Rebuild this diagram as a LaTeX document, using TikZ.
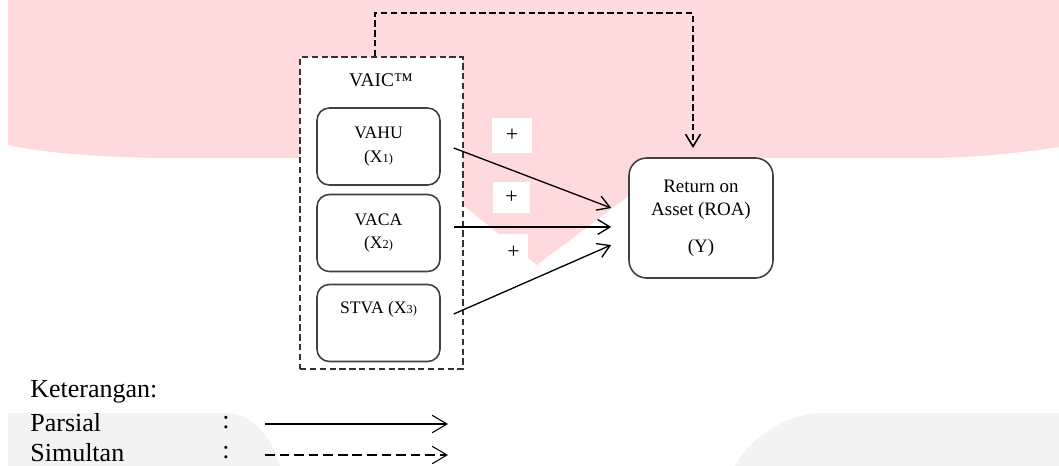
\documentclass[tikz,border=0pt]{standalone}
\usepackage{fontspec}
\setmainfont{Liberation Serif}
\usepackage{tikz}
\usetikzlibrary{arrows.meta,calc}
\definecolor{logopink}{HTML}{FFDADD}
\definecolor{logogray}{HTML}{F3F3F3}
\newcommand{\smallsub}[1]{{\fontsize{7}{8}\selectfont #1}}
\tikzstyle{groupbox} = [draw=black!80, fill=white, line width=0.9pt,
    dash pattern=on 3.6pt off 2pt, rectangle, minimum width=3.26cm, minimum height=6.24cm]
\tikzstyle{varbox} = [draw=black!75, fill=white, line width=0.9pt, rectangle,
    rounded corners=7pt, minimum width=2.46cm, minimum height=1.54cm,
    align=center, font=\fontsize{10}{13.5}\selectfont]
\tikzstyle{depbox} = [draw=black!75, fill=white, line width=0.9pt, rectangle,
    rounded corners=10pt, minimum width=2.88cm, minimum height=2.4cm,
    align=center, font=\fontsize{10.8}{13}\selectfont]
\tikzstyle{plusbox} = [fill=white, minimum width=0.8cm, minimum height=0.7cm,
    font=\fontsize{12.5}{14}\selectfont]
\tikzstyle{parsial} = [line width=0.75pt, -{Straight Barb[length=7pt,width=8.5pt]}]
\tikzstyle{simultan} = [line width=0.9pt, dash pattern=on 3.6pt off 2pt,
    -{Straight Barb[length=7pt,width=8.5pt]}]
\tikzstyle{legend} = [inner sep=0pt, font=\fontsize{14.8}{18}\selectfont]

\begin{document}
\begin{tikzpicture}[x=0.02cm,y=-0.02cm]
\useasboundingbox (0,0) rectangle (1059,466);
% watermark in the background
\fill[logopink] (8,0) -- (1059,0) -- (1059,147)
    .. controls (1000,156) and (960,158) .. (920,158) -- (679,158) -- (537,265)
    -- (405,158) -- (160,158) .. controls (90,157) and (40,152) .. (8,145) -- cycle;
\fill[logogray] (8,413) -- (225,413) .. controls (255,413) and (272,440) .. (280,466)
    -- (8,466) -- cycle;
\fill[logogray] (1059,413) -- (823,413) .. controls (785,413) and (748,440) .. (735,466)
    -- (1059,466) -- cycle;

% variables
\node[groupbox] (vaic) at (381.5,213) {};
\node[font=\fontsize{11}{13}\selectfont] (vaictitle) at (381,80) {VAIC™};
\node[varbox] (vahu) at (378.5,146.5) {VAHU\\(X\smallsub{1)}};
\node[varbox] (vaca) at (378.5,233) {VACA\\(X\smallsub{2)}};
\node[varbox] (stva) at (378.5,323) {STVA (X\smallsub{3)}\\ \strut};
\node[depbox] (roa) at (701,218) {Return on\\Asset (ROA)\\[8pt](Y)};

% signs
\node[plusbox] (plus1) at (512,135.5) {+};
\node[plusbox, minimum width=0.74cm, minimum height=0.62cm] (plus2) at (511.5,197.5) {+};
\node[plusbox, minimum width=0.58cm, minimum height=0.74cm] (plus3) at (513.5,252) {+};

% partial effects
\draw[parsial] ($(vahu.east)+(13,1.5)$) -- ($(roa.west)+(-17,-10)$);
\draw[parsial] ($(vaca.east)+(13,-6)$) -- ($(roa.west)+(-17,9)$);
\draw[parsial] ($(stva.east)+(13,-9)$) -- ($(roa.west)+(-17,27)$);

% simultaneous effect
\coordinate (simtop) at (375,13);
\coordinate (simend) at (693,148);
\draw[simultan] (vaic.north -| simtop) -- (simtop) -| (simend);

% legend
\node[legend, anchor=west] (ket) at (30,392) {Keterangan:};
\node[legend, anchor=west] (par) at (30,423) {Parsial};
\node[legend, anchor=west] (sim) at (30,453) {Simultan};
\node[legend] (colon1) at (226,423) {:};
\node[legend] (colon2) at (226,453) {:};
\coordinate (parend) at (448,424);
\coordinate (simlegend) at (448,455);
\draw[line width=0.6pt, -{Straight Barb[length=8.5pt,width=10pt]}] (parend -| 265,0) -- (parend);
\draw[line width=0.6pt, dash pattern=on 5.5pt off 2.8pt, -{Straight Barb[length=8.5pt,width=10pt]}] (simlegend -| 265,0) -- (simlegend);
\end{tikzpicture}
\end{document}
